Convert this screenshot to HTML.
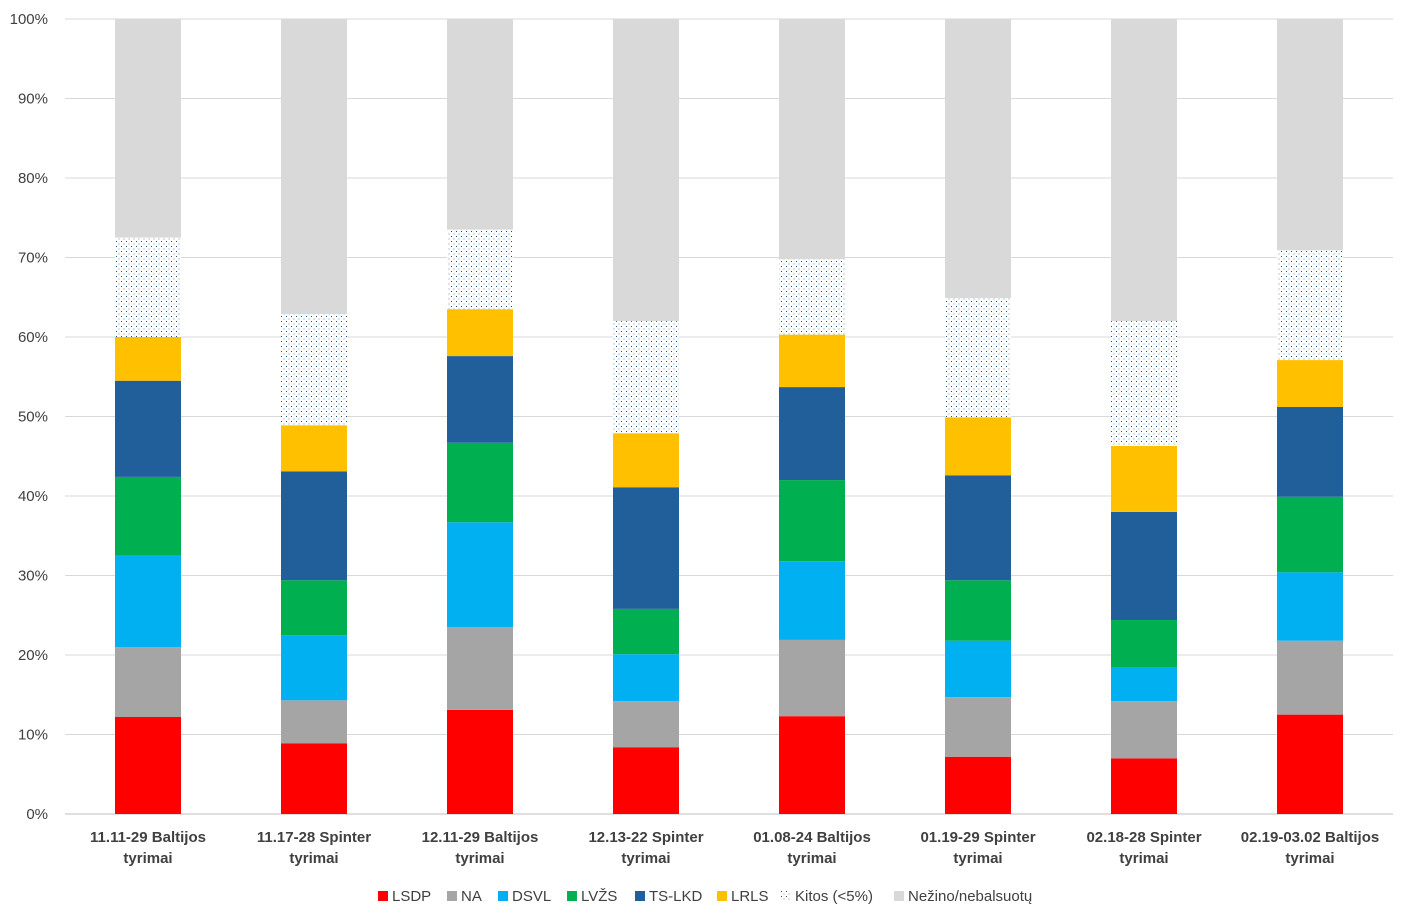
<!DOCTYPE html>
<html><head><meta charset="utf-8"><style>
body{margin:0;background:#fff;}
svg{display:block;font-family:"Liberation Sans",sans-serif;}
</style></head><body>
<svg id="chart" width="1413" height="922">
<defs>
<pattern id="dots" width="5" height="5" patternUnits="userSpaceOnUse">
<rect width="5" height="5" fill="#fff"/><rect x="1" y="1" width="1" height="1" fill="#1F4E79"/><rect x="3.5" y="3.5" width="1" height="1" fill="#1F4E79" opacity="0.6"/>
</pattern>
</defs>
</svg>
<script>
const categories=["11.11-29 Baltijos|tyrimai","11.17-28 Spinter|tyrimai","12.11-29 Baltijos|tyrimai","12.13-22 Spinter|tyrimai","01.08-24 Baltijos|tyrimai","01.19-29 Spinter|tyrimai","02.18-28 Spinter|tyrimai","02.19-03.02 Baltijos|tyrimai"];
const seriesNames=["LSDP","NA","DSVL","LVŽS","TS-LKD","LRLS","Kitos (<5%)","Nežino/nebalsuotų"];
const LSDP=[12.2,8.9,13.1,8.4,12.3,7.2,7.0,12.5];
const NA=[8.8,5.4,10.4,5.8,9.6,7.5,7.2,9.3];
const DSVL=[11.5,8.2,13.2,5.9,9.9,7.1,4.2,8.6];
const LVZS=[9.9,6.9,10.0,5.7,10.2,7.6,6.0,9.5];
const TSLKD=[12.1,13.7,10.9,15.3,11.7,13.2,13.6,11.3];
const LRLS=[5.5,5.8,5.9,6.8,6.6,7.3,8.3,5.9];
const Kitos=[12.5,14.0,10.0,14.1,9.5,15.0,15.7,13.8];
const Nezino=[27.5,37.1,26.5,38.0,30.2,35.1,38.0,29.1];
const yTicks=[0,10,20,30,40,50,60,70,80,90,100];

const series=[LSDP,NA,DSVL,LVZS,TSLKD,LRLS,Kitos,Nezino];
const colors=["#FF0000","#A5A5A5","#00B0F0","#00B050","#215F9A","#FFC000","url(#dots)","#D9D9D9"];
const svg=document.getElementById('chart');
const NS="http://www.w3.org/2000/svg";
const x0=65,x1=1393,yTop=19,yBot=814;
const band=(x1-x0)/categories.length, bw=66;
const y=v=>yBot-(v/100)*(yBot-yTop);
const xc=i=>x0+band*(i+0.5);
function mk(t,a){const e=document.createElementNS(NS,t);for(const k in a)e.setAttribute(k,a[k]);svg.appendChild(e);return e;}
yTicks.forEach(t=>{
 const l=mk('line',{x1:x0,x2:x1,y1:y(t),y2:y(t),stroke:t===0?'#BFBFBF':'#D9D9D9','stroke-width':1});
 
 
 const tx=mk('text',{x:48,y:y(t)+5,'text-anchor':'end','font-size':15,fill:'#404040'});
 tx.textContent=t+'%';
 
 
});
categories.forEach((c,i)=>{
 let acc=0;
 series.forEach((s,k)=>{
  const v=s[i];
  const r=mk('rect',{x:xc(i)-bw/2,y:y(acc+v),width:bw,height:y(acc)-y(acc+v),fill:colors[k]});
  
  
  acc+=v;
 });
 c.split('|').forEach((line,j)=>{
  const t=mk('text',{x:xc(i),y:842+j*21,'text-anchor':'middle','font-size':15,'font-weight':'bold',fill:'#404040'});
  t.textContent=line;
  
  
 });
});
const legX=[378,447,498,567,635,717,781,894];
seriesNames.forEach((n,k)=>{
 const r=mk('rect',{x:legX[k],y:891,width:10,height:10,fill:colors[k]});
 
 
 const t=mk('text',{x:legX[k]+14,y:901,'font-size':15,fill:'#404040'});
 t.textContent=n;
 
 
});
</script>
</body></html>
